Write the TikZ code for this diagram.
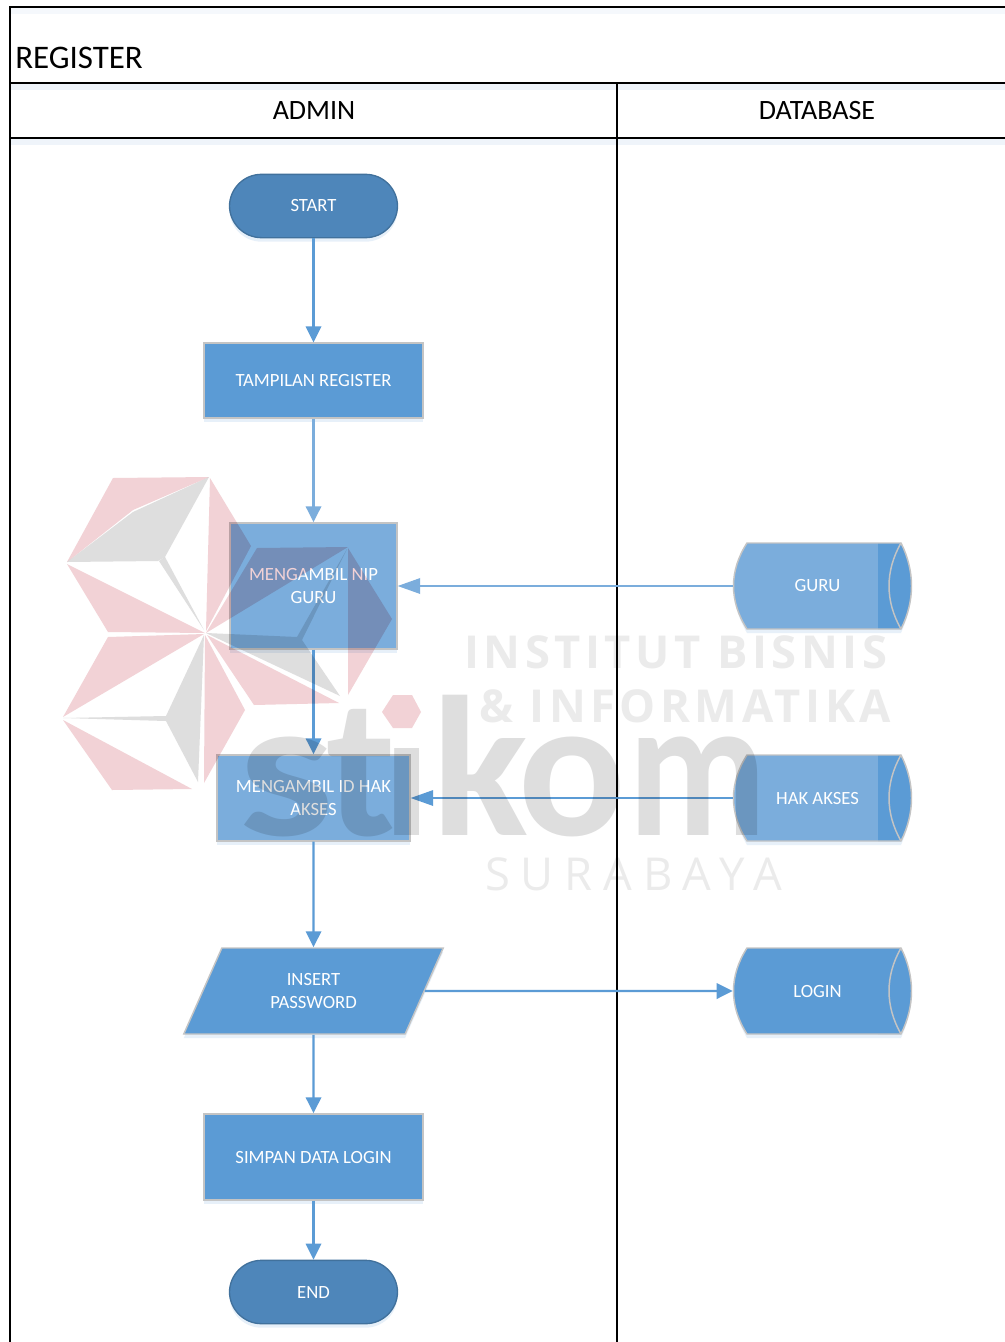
\documentclass[tikz,border=0pt]{standalone}
\usepackage{fontspec}
\setmainfont{Carlito}
\newfontfamily\wmfont{Open Sans}
\newfontfamily\wmbold{Carlito}
\usetikzlibrary{shapes.geometric,arrows.meta,shadows}
\definecolor{flowblue}{HTML}{5B9BD5}
\definecolor{lightblue}{HTML}{7BADDC}
\definecolor{termblue}{HTML}{4E86BA}
\definecolor{termedge}{HTML}{41719C}
\definecolor{edgegrey}{HTML}{C4C4C4}
\definecolor{wmpink}{HTML}{F2D2D6}
\definecolor{wmgrey}{HTML}{DEDEDE}
\definecolor{wmtext}{HTML}{EBEBEB}
\definecolor{softshade}{HTML}{EFF4FA}
\newcommand{\nodefont}{\fontsize{14}{17.25}\selectfont}
\newcommand{\dn}[1]{\raisebox{-.9pt}{#1}}
\tikzset{
  softshadow/.style={drop shadow={shadow xshift=0pt,shadow yshift=-3pt,opacity=.14,fill=flowblue}},
  nodebase/.style={align=center,text=white,inner sep=0pt,font=\nodefont},
  terminal/.style={nodebase,fill=termblue,draw=termedge,line width=1pt,rounded corners=24pt,minimum width=126pt,minimum height=47.5pt,softshadow},
  process/.style={nodebase,fill=flowblue,draw=edgegrey,line width=1.1pt,softshadow},
  procfaint/.style={nodebase,fill=lightblue,draw=edgegrey,line width=1.1pt,softshadow},
  inout/.style={nodebase,fill=flowblue,draw=edgegrey,line width=1.1pt,trapezium,trapezium left angle=63,trapezium right angle=117,trapezium stretches=true,minimum width=196.5pt,minimum height=64.5pt,softshadow},
  storebox/.style={nodebase,minimum width=126.75pt,minimum height=64.5pt},
  storeedge/.style={draw=edgegrey,line width=1.1pt},
  flow/.style={draw=flowblue,line width=1.8pt,-{Triangle[length=12pt,width=11.5pt]}},
  flowpale/.style={draw=lightblue,line width=1.8pt,-{Triangle[length=12pt,width=11.5pt]}},
  flowlong/.style={draw=flowblue,line width=1.8pt,-{Triangle[length=17pt,width=11.5pt]}},
  flowlongpale/.style={draw=lightblue,line width=1.8pt,-{Triangle[length=17pt,width=11.5pt]}},
  frameline/.style={draw=black,line width=1.5pt},
  header/.style={text=black,inner sep=0pt,font=\fontsize{21}{25}\selectfont},
  logopink/.style={fill=wmpink},
  logogrey/.style={fill=wmgrey},
  wmline/.style={inner sep=0pt,anchor=base west,text=wmtext}
}
\newcommand{\storagesym}[3]{%
  \path[fill=flowblue,opacity=.14] (747,#1-40) .. controls (729,#1-14) and (729,#1+16) .. (747,#1+47) -- (901,#1+47) .. controls (915,#1+16) and (915,#1-14) .. (901,#1-40) -- cycle;
  \path[fill=#2] (747,#1-43) .. controls (729,#1-15) and (729,#1+15) .. (747,#1+43) -- (901,#1+43) .. controls (915,#1+15) and (915,#1-15) .. (901,#1-43) -- cycle;
  \path[fill=#3] (878,#1-43) -- (901,#1-43) .. controls (915,#1-15) and (915,#1+15) .. (901,#1+43) -- (878,#1+43) -- cycle;
  \draw[storeedge] (747,#1-43) .. controls (729,#1-15) and (729,#1+15) .. (747,#1+43) -- (901,#1+43) .. controls (915,#1+15) and (915,#1-15) .. (901,#1-43) -- cycle;
  \draw[storeedge] (901,#1-43) .. controls (885,#1-15) and (885,#1+15) .. (901,#1+43);
}
\begin{document}
\begin{tikzpicture}[x=0.75pt,y=-0.75pt]
\useasboundingbox (0,0) rectangle (1005,1342);
\fill[white] (0,0) rectangle (1005,1342);
\fill[softshade!60] (11,8) rectangle (1005,14);
\fill[softshade] (11,84) rectangle (1005,90);
\fill[softshade] (11,139) rectangle (1005,145);
\coordinate (tl) at (10,7);
\coordinate (tr) at (1005,7);
\coordinate (bl) at (10,1342);
\coordinate (t1l) at (10,83);
\coordinate (t1r) at (1005,83);
\coordinate (t2l) at (10,138);
\coordinate (t2r) at (1005,138);
\coordinate (dvt) at (617,83);
\coordinate (dvb) at (617,1342);
\draw[frameline] (tr) -- (tl) -- (bl);
\draw[frameline] (t1l) -- (t1r);
\draw[frameline] (t2l) -- (t2r);
\draw[frameline] (dvt) -- (dvb);
\node[header,anchor=west,font=\fontsize{24.7}{29}\selectfont] (title) at (15,58) {REGISTER};
\node[header] (admin) at (314,110.5) {ADMIN};
\node[header] (database) at (817,110.5) {DATABASE};
\node[terminal] (start) at (313.5,206) {\dn{START}};
\node[process,minimum width=164pt,minimum height=56pt] (tampil) at (313.5,380.5) {\dn{TAMPILAN REGISTER}};
\node[procfaint,minimum width=125pt,minimum height=94.5pt] (nip) at (313.5,586) {\dn{MENGAMBIL NIP}\\\dn{GURU}};
\node[procfaint,minimum width=144.5pt,minimum height=64.5pt] (idhak) at (313.5,798) {\dn{MENGAMBIL ID HAK}\\\dn{AKSES}};
\node[inout] (insert) at (313.5,991) {\dn{INSERT}\\\dn{PASSWORD}};
\node[process,minimum width=164pt,minimum height=64.5pt] (simpan) at (313.5,1157) {\dn{SIMPAN DATA LOGIN}};
\node[terminal] (end) at (313.5,1292) {\dn{END}};
\storagesym{586}{lightblue}{flowblue}
\storagesym{798}{lightblue}{flowblue}
\storagesym{991}{flowblue}{flowblue}
\node[storebox] (guru) at (817.5,586) {\dn{GURU}};
\node[storebox] (hak) at (817.5,798) {\dn{HAK AKSES}};
\node[storebox] (login) at (817.5,991) {\dn{LOGIN}};
\draw[flow] (start) -- (tampil);
\draw[flowpale] (tampil) -- (nip);
\draw[flow] (nip) -- (idhak);
\draw[flow] (idhak) -- (insert);
\draw[flow] (insert) -- (simpan);
\draw[flow] (simpan) -- (end);
\draw[flowlongpale] (guru.west) -- (nip.east);
\draw[flowlong] (hak.west) -- (idhak.east);
\draw[flow] (insert.east) -- (login.west);
\begin{scope}[blend mode=multiply]
\fill[logopink] (113,478) -- (209,477) -- (133,510) -- (67,562) -- cycle;
\fill[logogrey] (209,477) -- (165,557) -- (158,561) -- (67,562) -- (133,512) -- cycle;
\fill[logopink] (67,564) -- (205,633) -- (108,632) -- cycle;
\fill[logogrey] (159,561) -- (165,557) -- (204,630) -- cycle;
\fill[logopink] (210,478) -- (251,546) -- (206,631) -- cycle;
\fill[logopink] (257,548) -- (348,547) -- (206,633) -- cycle;
\fill[logopink] (348,548) -- (392,619) -- (348,695) -- cycle;
\fill[logogrey] (206,633) -- (297,637) -- (347,549) -- (302,640) -- (340,696) -- cycle;
\fill[logopink] (207,635) -- (339,703) -- (254,705) -- cycle;
\fill[logopink] (108,637) -- (204,634) -- (63,717) -- cycle;
\fill[logogrey] (204,635) -- (166,716) -- (63,718) -- (166,721) -- (198,782) -- cycle;
\fill[logopink] (63,720) -- (192,789) -- (112,790) -- cycle;
\fill[logopink] (205,635) -- (245,710) -- (204,783) -- cycle;
\fill[logopink] (393,695) -- (412,695) -- (421,712) -- (412,728) -- (393,728) -- (382,712) -- cycle;
\begin{scope}[every node/.style={inner sep=0pt,text=wmgrey,anchor=base west,font=\wmbold\bfseries\fontsize{150}{150}\selectfont}]
\node[xscale=1.2] (ls) at (238,835) {s};
\node[xscale=1] (lt) at (326,835) {t};
\begin{scope}
\clip (380,748) rectangle (425,845);
\node (li) at (382,835) {i};
\end{scope}
\node[xscale=1] (lk) at (432,835) {k};
\node[xscale=1] (lo) at (518,835) {o};
\node[xscale=.85] (lm) at (628,835) {m};
\end{scope}
\node[wmline,font=\wmfont\bfseries\fontsize{34}{34}\selectfont\addfontfeature{LetterSpace=10}] (w1) at (464,668) {INSTITUT BISNIS};
\node[wmline,font=\wmfont\bfseries\fontsize{34}{34}\selectfont\addfontfeature{LetterSpace=10}] (w2) at (479,722) {\& INFORMATIKA};
\node[wmline,font=\wmfont\fontsize{34}{34}\selectfont\addfontfeature{LetterSpace=24}] (w3) at (485,890) {SURABAYA};
\end{scope}
\end{tikzpicture}
\end{document}
